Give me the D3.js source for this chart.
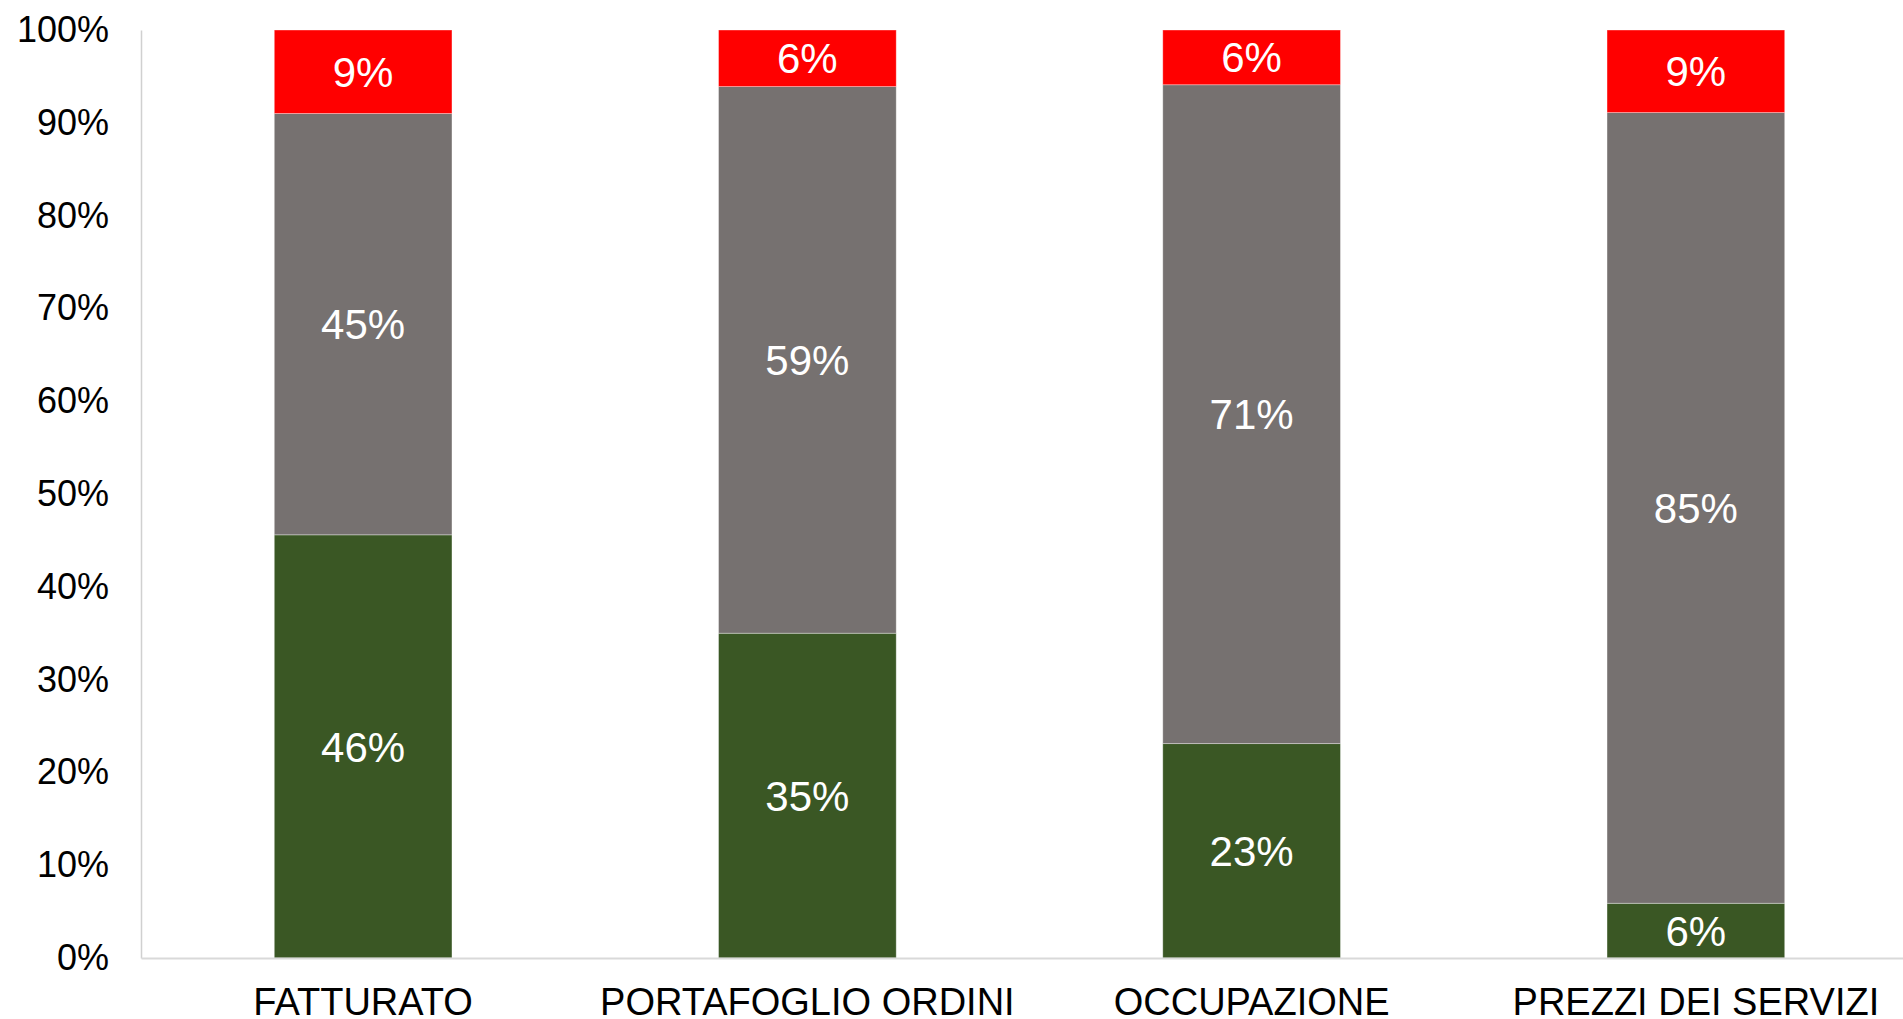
<!DOCTYPE html>
<html>
<head>
<meta charset="utf-8">
<script src="https://cdn.jsdelivr.net/npm/d3@7"></script>
<style>
  body { margin: 0; background: #fff; }
  text { font-family: "Liberation Sans", Arial, sans-serif; }
</style>
</head>
<body>
<div id="chart"></div>
<script>
const categories = ["FATTURATO", "PORTAFOGLIO ORDINI", "OCCUPAZIONE", "PREZZI DEI SERVIZI"]
const green = [45.6, 35.0, 23.1, 5.9]
const gray = [45.4, 58.9, 71.0, 85.2]
const red = [9.0, 6.1, 5.9, 8.9]
const yTicks = [0, 10, 20, 30, 40, 50, 60, 70, 80, 90, 100]

const seriesNames = ["green", "gray", "red"]
const colors = { green: "#3a5724", gray: "#767170", red: "#ff0000" }

const width = 1903
const height = 1019

const data = categories.map((c, i) => ({ name: c, green: green[i], gray: gray[i], red: red[i] }))

const svg = d3.select('#chart')
    .append('svg')
        .attr('width', width)
        .attr('height', height)

const yScale = d3.scaleLinear()
    .domain([0, 100])
    .range([958, 30])

const xScale = d3.scaleBand()
    .domain(categories)
    .range([141, 1918])
    .paddingInner(0.6)
    .paddingOuter(0.3)

const stack = d3.stack().keys(seriesNames)(data)

// bars
const layers = svg.selectAll('g.layer')
    .data(stack)
    .enter()
    .append('g')
        .attr('class', 'layer')
        .attr('fill', d => colors[d.key])

layers.selectAll('rect')
    .data(d => d)
    .enter()
    .append('rect')
        .attr('x', d => xScale(d.data.name))
        .attr('y', d => yScale(d[1]))
        .attr('height', d => yScale(d[0]) - yScale(d[1]))
        .attr('width', xScale.bandwidth())
        .attr('stroke', 'rgba(255,255,255,0.45)')
        .attr('stroke-width', 0.8)

// value labels
layers.selectAll('text')
    .data(d => d)
    .enter()
    .append('text')
        .attr('x', d => xScale(d.data.name) + xScale.bandwidth() / 2)
        .attr('y', d => (yScale(d[0]) + yScale(d[1])) / 2)
        .attr('dy', '0.36em')
        .attr('text-anchor', 'middle')
        .attr('fill', '#fff')
        .style('font-size', '42px')
        .text(d => Math.round(d[1] - d[0]) + '%')

// y axis
const yAxis = svg.append('g')
    .attr('transform', 'translate(141,0)')
    .call(d3.axisLeft(yScale)
        .tickValues(yTicks)
        .tickSize(0)
        .tickPadding(32)
        .tickFormat(d => d + '%'))
yAxis.select('.domain').attr('stroke', '#d0d0d0').attr('stroke-width', 1.5)
yAxis.selectAll('text')
    .attr('fill', '#000')
    .style('font-size', '36px')
    .style('font-family', '"Liberation Sans", Arial, sans-serif')

// x axis
const xAxis = svg.append('g')
    .attr('transform', 'translate(0,958)')
    .call(d3.axisBottom(xScale).tickSize(0).tickPadding(0))
xAxis.select('.domain').attr('stroke', '#d9d9d9').attr('stroke-width', 2)
xAxis.selectAll('text')
    .attr('fill', '#000')
    .attr('y', 0)
    .attr('dy', 57)
    .style('font-size', '38px')
    .style('font-family', '"Liberation Sans", Arial, sans-serif')
</script>
</body>
</html>
